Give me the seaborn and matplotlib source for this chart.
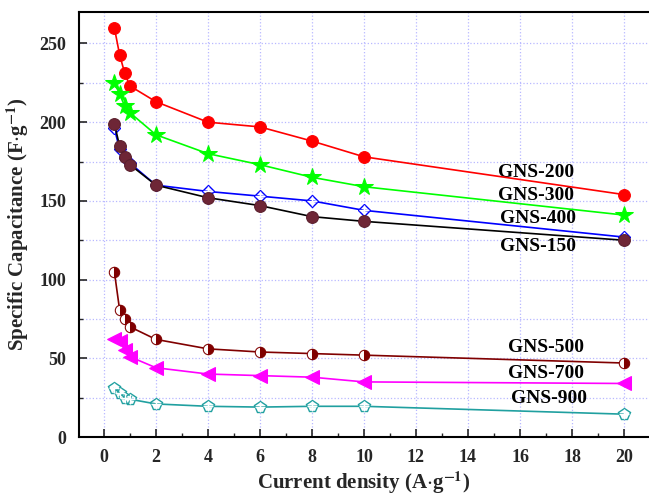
import matplotlib
matplotlib.use("Agg")
import matplotlib.pyplot as plt
import seaborn as sns
import numpy as np
import pandas as pd

current = [0.4, 0.6, 0.8, 1, 2, 4, 6, 8, 10, 20]
gns200 = [260, 243, 231, 223, 213, 200, 197, 188, 178, 154]
gns300 = [225, 218, 210, 206, 192, 180, 173, 165, 159, 141]
gns400 = [196, 183, 177, 174, 160, 156, 153, 150, 144, 127]
gns150 = [199, 185, 178, 173, 160, 152, 147, 140, 137, 125]
gns500 = [105, 81, 75, 70, 62, 56, 54, 53, 52, 47]
gns700 = [62, 61, 55, 51, 44, 40, 39, 38, 35, 34]
gns900 = [31, 28, 25, 24, 21, 19.5, 19, 19.5, 19.5, 14.5]

labels = ["GNS-200", "GNS-300", "GNS-400", "GNS-150", "GNS-500", "GNS-700", "GNS-900"]
label_x = [16.6, 16.6, 16.7, 16.7, 17.0, 17.0, 17.1]
label_y = [168, 153.5, 139, 121, 57, 40.5, 24.5]

sns.set_theme(style="ticks")
plt.rcParams['font.family'] = ['Liberation Serif', 'DejaVu Serif']
plt.rcParams['mathtext.fontset'] = 'stix'

fig = plt.figure(figsize=(6.49, 4.96), dpi=100)
ax = fig.add_axes([79/649, 1-437/496, 1-79/649, (437-12)/496])

def draw(y, color, marker, ms, **kw):
    sns.lineplot(x=current, y=y, ax=ax, color=color, marker=marker, markersize=ms,
                 linewidth=1.2, estimator=None, sort=False, legend=False, **kw)

draw(gns400, "#0000FF", "D", 6.5, markerfacecolor="none", markeredgecolor="#0000FF", markeredgewidth=1.0, zorder=3)
sns.lineplot(x=current, y=gns400, ax=ax, color="#0000FF", marker="+", markersize=7, linewidth=0,
             estimator=None, sort=False, legend=False, markeredgewidth=1.0, zorder=3)
draw(gns150, "black", "o", 8.5, markerfacecolor="#6E2636", markeredgecolor="#5A1E2C", zorder=4)
draw(gns200, "#FF0000", "o", 8.5, markerfacecolor="#FF0000", markeredgecolor="#FF0000", zorder=5)
draw(gns300, "#00FF00", "*", 13, markerfacecolor="#00FF00", markeredgecolor="#00FF00", zorder=5)
draw(gns500, "#800000", "o", 7.5, fillstyle="right", markerfacecolor="#800000",
     markerfacecoloralt="white", markeredgecolor="#800000", zorder=5)
draw(gns700, "#FF00FF", "<", 9.5, markerfacecolor="#FF00FF", markeredgecolor="#FF00FF", zorder=5)
draw(gns900, "#20A0A0", "p", 8.5, markerfacecolor="none", markeredgecolor="#20A0A0", markeredgewidth=1.0, zorder=5)
sns.lineplot(x=current, y=gns900, ax=ax, color="#20A0A0", marker="+", markersize=6.5, linewidth=0,
             estimator=None, sort=False, legend=False, markeredgewidth=1.0, zorder=5)

for t, xx, yy in zip(labels, label_x, label_y):
    ax.text(xx, yy, t, ha="center", va="center", fontsize=14, fontweight="bold", color="black")

ax.set_xlim(-0.96, 20.96)
ax.set_ylim(0, 270)
ax.set_xticks(np.arange(0, 21, 2))
ax.set_xticks(np.arange(0, 21, 1), minor=True)
ax.set_yticks(np.arange(0, 251, 50))
ax.set_yticks(np.arange(0, 251, 25), minor=True)
ax.tick_params(which="major", direction="in", length=6, width=1.2, labelsize=13, pad=9)
ax.tick_params(which="minor", direction="in", length=3, width=1.0)
for lab in ax.get_xticklabels() + ax.get_yticklabels():
    lab.set_fontweight("bold")
ax.grid(True, which="major", axis="x", color="#B8B8FF", linestyle=":", linewidth=0.9)
ax.grid(True, which="both", axis="y", color="#B8B8FF", linestyle=":", linewidth=0.9)
ax.set_axisbelow(True)
ax.spines["right"].set_visible(False)
for s in ["left", "bottom", "top"]:
    ax.spines[s].set_linewidth(1.5)
    ax.spines[s].set_color("black")

ax.set_xlabel(r"Current density (A$\cdot$g$^{\mathbf{-1}}$)", fontsize=15, fontweight="bold", labelpad=2)
ax.set_ylabel(r"Specific Capacitance (F$\cdot$g$^{\mathbf{-1}}$)", fontsize=15, fontweight="bold", labelpad=6)

fig.savefig("out.png", dpi=100)
